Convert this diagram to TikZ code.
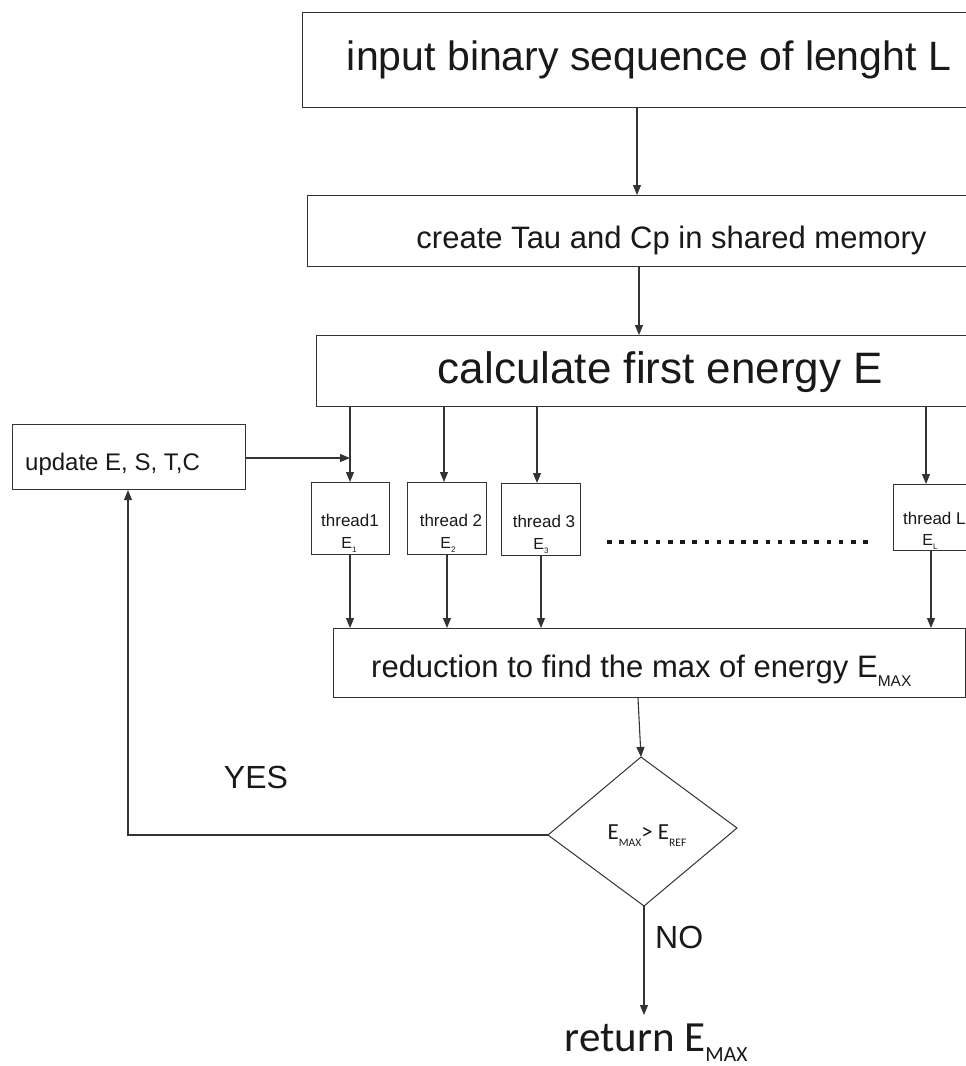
\documentclass[tikz,border=0pt]{standalone}
\usepackage{fontspec}
\usepackage{graphicx}
\setmainfont{Liberation Sans}
\newfontfamily\hfont{Carlito}
\usetikzlibrary{arrows.meta}
\newcommand\fs[1]{\fontsize{#1}{#1}\selectfont}
\newcommand\lsub[1]{\raisebox{-0.3em}{\scalebox{0.5}{#1}}}
\newcommand\dsub[1]{\raisebox{-0.24em}{\scalebox{0.5}{#1}}}
\begin{document}
\begin{tikzpicture}[x=1pt,y=-1pt,
  box/.style={draw=black!80, line width=1.1pt, rectangle, inner sep=0pt, anchor=north west},
  txt/.style={inner sep=0pt, anchor=base, text=black!90},
  arr/.style={draw=black!80, line width=1.1pt, -{Triangle[length=10pt,width=8pt]}},
  ln/.style={draw=black!80, line width=1.1pt}]
\useasboundingbox (0,0) rectangle (966,1066);
\clip (0,0) rectangle (966,1066);
\fill[white] (0,0) rectangle (966,1066);

% main boxes
\node[box, minimum width=694pt, minimum height=95pt] (top) at (302,12) {};
\node[box, minimum width=729pt, minimum height=71pt] (create) at (307,195) {};
\node[box, minimum width=689pt, minimum height=71pt] (calc) at (316,335) {};
\node[box, minimum width=233pt, minimum height=65pt] (upd) at (12,424) {};
\node[box, minimum width=78pt, minimum height=72pt] (t1) at (311,482) {};
\node[box, minimum width=79pt, minimum height=72pt] (t2) at (407,482) {};
\node[box, minimum width=79pt, minimum height=72pt] (t3) at (501,483) {};
\node[box, minimum width=110pt, minimum height=66pt] (tL) at (893,484) {};
\node[box, minimum width=632pt, minimum height=69pt] (red) at (333,628) {};

% texts
\node[txt, font=\fs{41}] (toptxt) at (649,70) {input binary sequence of lenght L};
\node[txt, font=\fs{31}] (createtxt) at (671.5,248) {create Tau and Cp in shared memory};
\node[txt, font=\fs{44}] (calctxt) at (660.5,383) {calculate first energy E};
\node[txt, anchor=base west, font=\fs{24}] (updtxt) at (25,470) {update E, S, T,C};
\node[txt, font=\fs{17}] (t1a) at (350,526) {thread1};
\node[txt, font=\fs{16}] (t1b) at (349,548) {E\lsub{1}};
\node[txt, font=\fs{17}] (t2a) at (451,526) {thread 2};
\node[txt, font=\fs{16}] (t2b) at (448,548) {E\lsub{2}};
\node[txt, font=\fs{17}] (t3a) at (544,527) {thread 3};
\node[txt, font=\fs{16}] (t3b) at (541,549) {E\lsub{3}};
\node[txt, anchor=base west, font=\fs{17}] (tLa) at (903,524) {thread L};
\node[txt, font=\fs{16}] (tLb) at (930,545) {E\lsub{L}};
\node[txt, anchor=base west, font=\fs{31}] (redtxt) at (371,677) {reduction to find the max of energy E\lsub{MAX}};

% dotted ellipsis between the threads
\coordinate (dotA) at (607,542);
\coordinate (dotB) at (869,542);
\draw[black!90, line width=4pt, dash pattern=on 4.5pt off 7.7pt] (dotA) -- (dotB);

% decision diamond
\coordinate (dT) at (641,757);
\coordinate (dR) at (737,828);
\coordinate (dB) at (644,906);
\coordinate (dL) at (548,835);
\draw[ln, line width=1pt, line join=miter] (dT) -- (dR) -- (dB) -- (dL) -- cycle;
\node[txt, anchor=center, font={\hfont\fs{23}}] (cond) at (647,836) {E\lsub{MAX}> E\lsub{REF}};

\node[txt, anchor=center, font=\fs{32}] (yes) at (256,777) {YES};
\node[txt, anchor=west, font=\fs{32}] (no) at (655,937) {NO};
\node[txt, font={\hfont\fs{43}}] (ret) at (656,1051) {return E\dsub{MAX}};

% column positions of the connectors
\coordinate (c1) at (637,0);
\coordinate (c2) at (639,0);
\coordinate (k1) at (350,0);
\coordinate (k2) at (444,0);
\coordinate (k3) at (537,0);
\coordinate (kL) at (926,0);
\coordinate (m1) at (350,0);
\coordinate (m2) at (447,0);
\coordinate (m3) at (541,0);
\coordinate (mL) at (931,0);
\coordinate (cr) at (638,0);
\coordinate (join) at (350,458);
\coordinate (cY) at (128,835);
\coordinate (retTop) at (644,1015);

% connectors
\draw[arr] (top.south -| c1) -- (create.north -| c1);
\draw[arr] (create.south -| c2) -- (calc.north -| c2);
\draw[arr] (calc.south -| k1) -- (t1.north -| k1);
\draw[arr] (calc.south -| k2) -- (t2.north -| k2);
\draw[arr] (calc.south -| k3) -- (t3.north -| k3);
\draw[arr] (calc.south -| kL) -- (tL.north -| kL);
\draw[arr] (upd.east |- join) -- (join);
\draw[arr] (t1.south -| m1) -- (red.north -| m1);
\draw[arr] (t2.south -| m2) -- (red.north -| m2);
\draw[arr] (t3.south -| m3) -- (red.north -| m3);
\draw[arr] (tL.south -| mL) -- (red.north -| mL);
\draw[arr] (red.south -| cr) -- (dT);
\draw[arr] (dL) -- (cY) -- (upd.south -| cY);
\draw[arr] (dB) -- (retTop);
\end{tikzpicture}
\end{document}
